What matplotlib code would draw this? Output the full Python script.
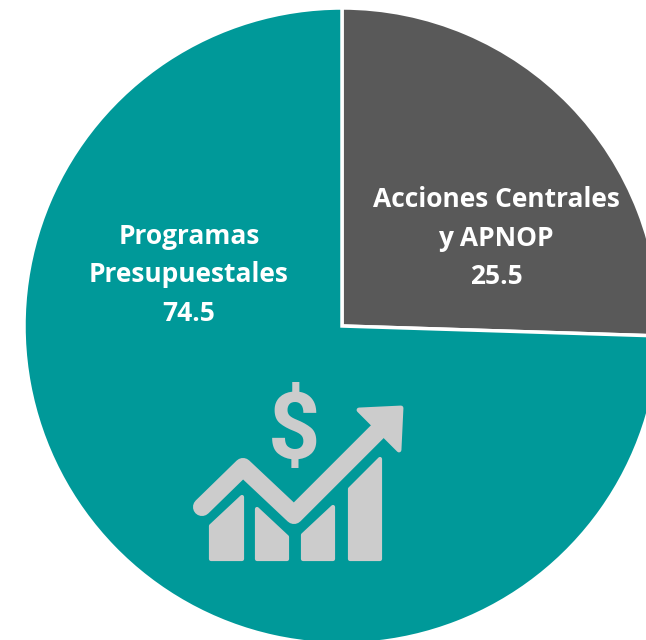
import matplotlib
matplotlib.use("Agg")
import matplotlib.pyplot as plt
from matplotlib.patches import Polygon

values = [25.5, 74.5]
names = ["Acciones Centrales\ny APNOP", "Programas\nPresupuestales"]
colors = ["#595959", "#009999"]
icon_color = "#CCCCCC"

# icon outlines, in pixels of the 646x640 picture
bars = [
    [(211, 526), (242, 497), (242, 559), (211, 559)],
    [(257, 509), (287, 537), (287, 559), (257, 559)],
    [(303, 535), (333, 507), (333, 559), (303, 559)],
    [(350, 489), (380, 459), (380, 559), (350, 559)],
]
trend = [(202, 507), (243, 467), (294, 515), (378, 431)]
head = [(359, 410), (401, 408), (399, 450)]

def flip(pts):
    return [(x, 640 - y) for x, y in pts]

fig = plt.figure(figsize=(6.46, 6.40), dpi=100)
ax = fig.add_axes([0, 0, 1, 1])

wedges, _ = ax.pie(values, colors=colors, startangle=90, counterclock=False,
                   center=(342, 314), radius=318,
                   wedgeprops={"edgecolor": "white", "linewidth": 2.5})
ax.set_xlim(0, 646)
ax.set_ylim(0, 640)
ax.set_aspect("equal")
ax.axis("off")

font = "Open Sans"
ax.text(496, 640 - 238, names[0] + "\n" + str(values[0]), color="white", fontsize=19,
        fontweight="bold", family=font, ha="center", va="center", linespacing=1.55)
ax.text(189, 640 - 275, names[1] + "\n" + str(values[1]), color="white", fontsize=19,
        fontweight="bold", family=font, ha="center", va="center", linespacing=1.55)

# icon
for b in bars:
    ax.add_patch(Polygon(flip(b), closed=True, facecolor=icon_color, edgecolor=icon_color,
                         linewidth=3, joinstyle="round"))
xs, ys = zip(*flip(trend))
ax.plot(xs, ys, color=icon_color, linewidth=13, solid_capstyle="round", solid_joinstyle="round")
ax.add_patch(Polygon(flip(head), closed=True, facecolor=icon_color, edgecolor=icon_color,
                     linewidth=3.5, joinstyle="round"))
ax.text(294, 640 - 433, "$", color=icon_color, fontsize=66, fontweight="bold",
        family="Roboto", ha="center", va="center", parse_math=False)

fig.savefig("out.png", dpi=100)
